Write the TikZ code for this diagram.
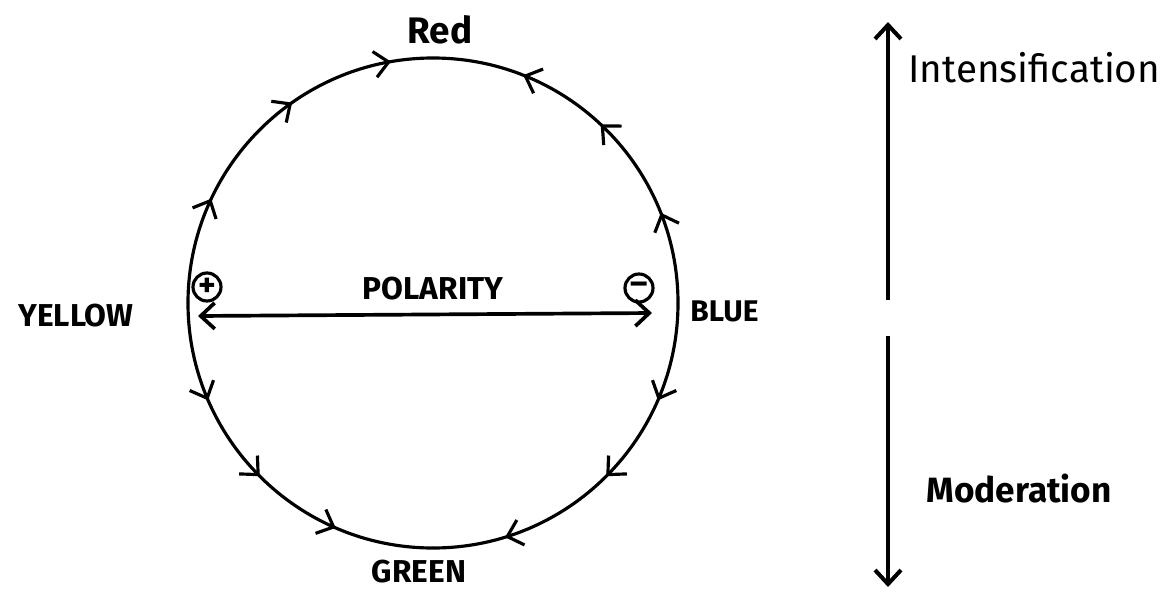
\documentclass[tikz,border=0pt]{standalone}
\usepackage{fontspec}
\setmainfont{Fira Sans}
\usetikzlibrary{arrows.meta,decorations.markings}

\tikzset{
  flow/.style n args={3}{postaction={decorate},
    decoration={markings,
      mark=at position #1 with {\arrow{>}},
      mark=at position #2 with {\arrow{>}},
      mark=at position #3 with {\arrow{>}}}},
  sign/.style={circle, draw, minimum size=0.56cm, inner sep=0pt, line width=1.8pt, font=\bfseries\fontsize{19}{19}\selectfont},
  colname/.style={font=\bfseries\fontsize{18}{21}\selectfont},
}

\begin{document}
\begin{tikzpicture}[>={Straight Barb[length=2.8mm,width=5.2mm]}, line width=1.8pt]
    \useasboundingbox (0,0) rectangle (23.32,11.82);
    % Colour circle
    \coordinate (c) at (8.66,5.76);
    \coordinate (yel) at (3.76,5.76);
    \coordinate (blu) at (13.56,5.76);
    \draw[flow={0.28}{0.61}{0.89}] (yel) arc[start angle=180, end angle=90, radius=4.9cm];
    \draw[flow={0.24}{0.52}{0.76}] (blu) arc[start angle=0, end angle=90, radius=4.9cm];
    \draw[flow={0.26}{0.5}{0.74}] (yel) arc[start angle=180, end angle=270, radius=4.9cm];
    \draw[flow={0.26}{0.5}{0.81}] (blu) arc[start angle=0, end angle=-90, radius=4.9cm];

    \node[font=\bfseries\fontsize{21}{25}\selectfont] (red) at (8.8,11.22) {Red};
    \node[colname, anchor=east] (yellow) at (2.82,5.5) {YELLOW};
    \node[colname, font=\bfseries\fontsize{17}{20}\selectfont, anchor=west] (blue) at (13.66,5.6) {BLUE};
    \node[colname] (green) at (8.38,0.38) {GREEN};

    % Polarity
    \node[sign] (plus) at (4.14,6.08) {+};
    \node[sign] (minus) at (12.78,6.06) {–};
    \coordinate (polL) at (3.96,5.5);
    \coordinate (polR) at (13.04,5.56);
    \draw[<->, line width=2.1pt] (polL) -- (polR);
    \node[font=\bfseries\fontsize{18}{21}\selectfont] (polarity) at (8.66,6.04) {POLARITY};

    % Intensification / Moderation
    \coordinate (upS) at (17.76,5.82);
    \coordinate (upE) at (17.76,11.38);
    \coordinate (dnS) at (17.76,5.1);
    \coordinate (dnE) at (17.76,0.08);
    \draw[->, line width=2.3pt] (upS) -- (upE);
    \draw[->, line width=2.3pt] (dnS) -- (dnE);
    \node[anchor=base west, inner sep=0pt, font=\fontsize{22}{26}\selectfont] (intens) at (18.14,10.18) {Intensification};
    \node[anchor=base west, inner sep=0pt, font=\bfseries\fontsize{20}{24}\selectfont] (moder) at (18.5,1.78) {Moderation};
\end{tikzpicture}
\end{document}
